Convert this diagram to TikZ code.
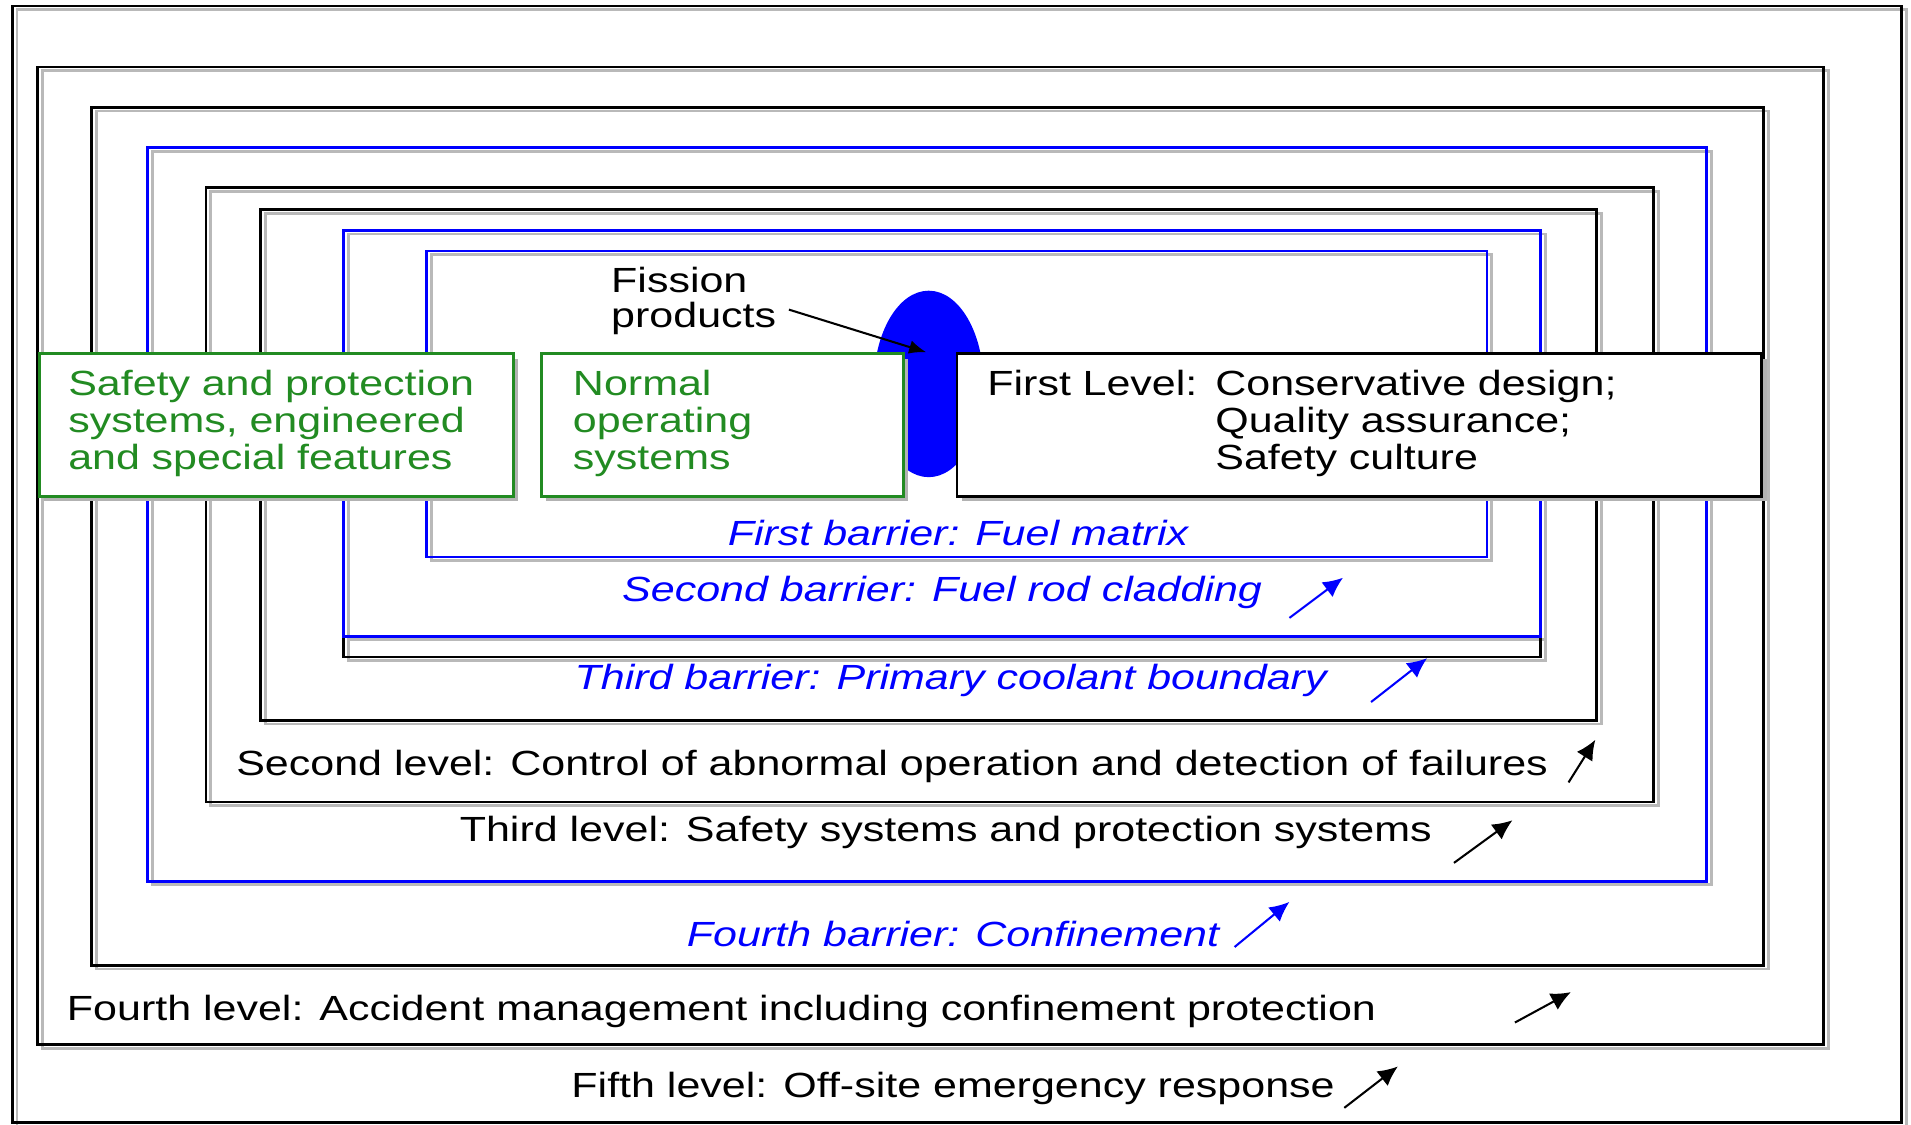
\documentclass[tikz,border=0pt]{standalone}
\usepackage{fontspec}
\setmainfont[FakeStretch=1.23]{Liberation Sans}
\usetikzlibrary{shapes.geometric,shadows,arrows.meta}
\definecolor{boxgreen}{RGB}{34,139,34}

\begin{document}
\begin{tikzpicture}[x=0.0125cm,y=-0.0125cm,thick,>={Latex[length=5.8pt,width=5.4pt]},
  every node/.style={font=\fontsize{10.2}{10.8}\selectfont},
  shadowline/.style={gray!55},
  barrierlabel/.style={blue,font=\fontsize{10.2}{10.8}\selectfont\itshape},
  infobox/.style={draw,fill=white,anchor=north west,minimum height=41.6pt,inner ysep=0pt,align=left,
    drop shadow={shadow xshift=1.5pt,shadow yshift=-1.5pt,fill=gray!60,opacity=1}},
  pointer/.style={->,semithick}]

\useasboundingbox (0,0) rectangle (1568,923);
\fill[white] (0,0) rectangle (1568,923);

\begin{scope}[shadowline,shift={(4,3)}]
\draw (10,5) rectangle (1560,921);
\draw (31,55) rectangle (1496,857);
\draw (75,88) rectangle (1447,792);
\draw (121,121) rectangle (1400,723);
\draw (169,154) rectangle (1357,658);
\draw (214,172) rectangle (1310,591);
\draw (282,189) rectangle (1264,539);
\draw (282,189) rectangle (1264,522);
\draw (350,206) rectangle (1220,457);
\end{scope}

\draw (10,5) rectangle (1560,921);
\draw (31,55) rectangle (1496,857);
\draw (75,88) rectangle (1447,792);
\draw[blue] (121,121) rectangle (1400,723);
\draw (169,154) rectangle (1357,658);
\draw (214,172) rectangle (1310,591);
\draw (282,189) rectangle (1264,539);
\draw[blue] (282,189) rectangle (1264,522);
\draw[blue] (350,206) rectangle (1220,457);

\node[ellipse,fill=blue,inner sep=0pt,minimum width=32pt,minimum height=54.4pt] (pellet) at (762,315) {};

\node[infobox,draw=boxgreen,text=boxgreen,text width=121.3pt,inner xsep=8.5pt] (safety) at (31,289)
  {\begin{tabular}{@{}l@{}}Safety and protection\\ systems, engineered\\ and special features\end{tabular}};
\node[infobox,draw=boxgreen,text=boxgreen,text width=87.1pt,inner xsep=9.25pt] (normal) at (443,289)
  {\begin{tabular}{@{}l@{}}Normal\\ operating\\ systems\end{tabular}};
\node[infobox,text width=216.9pt,inner xsep=8.9pt] (level1) at (784,289)
  {\begin{tabular}{@{}p{66.5pt}@{}l@{}}First Level: & Conservative design;\\ & Quality assurance;\\ & Safety culture\end{tabular}};

\node[align=left,anchor=west,font=\fontsize{10.2}{10.2}\selectfont] (fission) at (491,247) {Fission\\products};
\coordinate (fissiontip) at (760,289);
\draw[pointer,>={Latex[length=5pt,width=4pt]}] ([yshift=-2.5pt]fission.east) -- (fissiontip);

\node[barrierlabel] (fuel) at (786,437) {First barrier: Fuel matrix};
\node[barrierlabel] (cladding) at (773,486) {Second barrier: Fuel rod cladding};
\node[barrierlabel] (coolant) at (780,558) {Third barrier: Primary coolant boundary};
\node (level2) at (732,629) {Second level: Control of abnormal operation and detection of failures};
\node (level3) at (776,683) {Third level: Safety systems and protection systems};
\node[barrierlabel] (confinement) at (782,766) {Fourth barrier: Confinement};
\node (level4) at (592,830) {Fourth level: Accident management including confinement protection};
\node (level5) at (782,893) {Fifth level: Off-site emergency response};

\coordinate (cladA) at (1058,507);
\coordinate (cladB) at (1102,474);
\coordinate (coolA) at (1125,576);
\coordinate (coolB) at (1171,540);
\coordinate (lvtwoA) at (1287,642);
\coordinate (lvtwoB) at (1309,607);
\coordinate (lvthreeA) at (1193,708);
\coordinate (lvthreeB) at (1241,673);
\coordinate (confA) at (1013,777);
\coordinate (confB) at (1058,740);
\coordinate (lvfourA) at (1243,839);
\coordinate (lvfourB) at (1289,814);
\coordinate (lvfiveA) at (1103,909);
\coordinate (lvfiveB) at (1147,875);

\draw[pointer,blue] (cladA) -- (cladB);
\draw[pointer,blue] (coolA) -- (coolB);
\draw[pointer] (lvtwoA) -- (lvtwoB);
\draw[pointer] (lvthreeA) -- (lvthreeB);
\draw[pointer,blue] (confA) -- (confB);
\draw[pointer] (lvfourA) -- (lvfourB);
\draw[pointer] (lvfiveA) -- (lvfiveB);

\end{tikzpicture}
\end{document}
